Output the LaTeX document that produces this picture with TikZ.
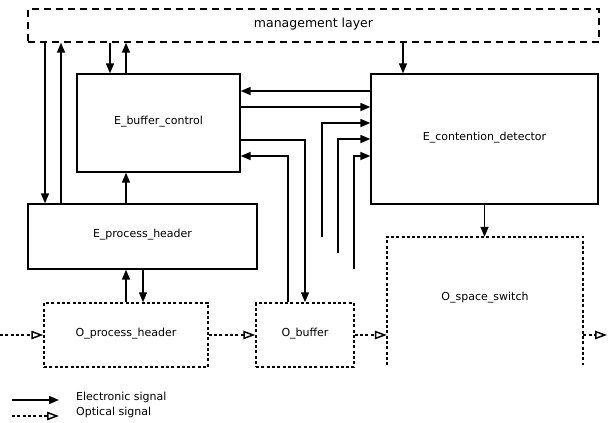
\documentclass[tikz,border=0pt]{standalone}
\usepackage{fontspec}
\setmainfont{DejaVu Sans}
\usetikzlibrary{arrows.meta}
\begin{document}
\begin{tikzpicture}[x=1pt,y=-1pt,
  every node/.style={font=\fontsize{11}{13}\selectfont},
  ebox/.style={draw, line width=1.3pt, inner sep=0pt, text depth=6pt},
  dotline/.style={line width=1.5pt, dash pattern=on 3pt off 2.3pt},
  obox/.style={draw, dotline, inner sep=0pt, text depth=6pt},
  mbox/.style={draw, line width=1.3pt, dash pattern=on 7pt off 5pt, inner sep=0pt, text depth=6pt,
    font=\fontsize{12.5}{14}\selectfont},
  el/.style={line width=1.4pt, -{Triangle[length=10pt,width=8pt]}},
  op/.style={dotline, -{Triangle[open,length=12pt,width=8.5pt]}},
  legtext/.style={anchor=west, inner sep=0pt}
]
\useasboundingbox (0,0) rectangle (608,423);

% blocks
\node[mbox, minimum width=571pt, minimum height=33pt] (mgmt) at (313.5,25.5) {management layer};
\node[ebox, minimum width=163pt, minimum height=98pt] (bc) at (158.5,123) {E\_buffer\_control};
\node[ebox, minimum width=227pt, minimum height=130pt] (cd) at (484.5,139) {E\_contention\_detector};
\node[ebox, minimum width=229pt, minimum height=65pt] (ph) at (142.5,236.5) {E\_process\_header};
\node[obox, minimum width=164pt, minimum height=64pt] (oph) at (126,335) {O\_process\_header};
\node[obox, minimum width=98pt, minimum height=64pt] (ob) at (305,335) {O\_buffer};
\node[inner sep=0pt, minimum width=196pt, minimum height=128pt] (oss) at (485,301) {};
\node[inner sep=0pt] (osstext) at (485,298) {O\_space\_switch};
\draw[dotline]
  (oss.south west) -- (oss.north west) -- (oss.north east) -- (oss.south east);

% columns and rows for the connectors
\coordinate (k45) at (45,0);
\coordinate (k61) at (61,0);
\coordinate (k110) at (110,0);
\coordinate (k126) at (126,0);
\coordinate (k143) at (143,0);
\coordinate (k288) at (288,0);
\coordinate (k305) at (305,0);
\coordinate (k403) at (403,0);
\coordinate (r91) at (0,91);
\coordinate (r107) at (0,107);
\coordinate (r123) at (0,123);
\coordinate (r139) at (0,139);
\coordinate (r140) at (0,140);
\coordinate (r156) at (0,156);
\coordinate (t1) at (322,237);
\coordinate (t2) at (338,253);
\coordinate (t3) at (354,269);
\coordinate (oin) at (0,335);
\coordinate (oout) at (607,335);

% management layer links
\draw[el] (mgmt.south -| k45) -- (ph.north -| k45);
\draw[el] (ph.north -| k61) -- (mgmt.south -| k61);
\draw[el] (mgmt.south -| k110) -- (bc.north -| k110);
\draw[el] (bc.north -| k126) -- (mgmt.south -| k126);
\draw[el] (mgmt.south -| k403) -- (cd.north -| k403);

% buffer control <-> contention detector
\draw[el] (cd.west |- r91) -- (bc.east |- r91);
\draw[el] (bc.east |- r107) -- (cd.west |- r107);
\draw[el] (t1) |- (cd.west |- r123);
\draw[el] (t2) |- (cd.west |- r139);
\draw[el] (t3) |- (cd.west |- r156);

% buffer control <-> optical buffer
\draw[el] (bc.east |- r140) -| (ob.north -| k305);
\draw[el] (ob.north -| k288) |- (bc.east |- r156);

% header processing
\draw[el] (ph.north -| k126) -- (bc.south -| k126);
\draw[el] (oph.north -| k126) -- (ph.south -| k126);
\draw[el] (ph.south -| k143) -- (oph.north -| k143);

% contention detector drives the space switch
\draw[el] (cd.south) -- (cd.south |- oss.north);

% optical path
\draw[op] (oin) -- (oph.west);
\draw[op] (oph.east) -- (ob.west);
\draw[op] (ob.east) -- (oss.west |- ob.east);
\draw[op] (oss.east |- ob.east) -- (oout);

% legend
\coordinate (le1) at (12,400);
\coordinate (le2) at (59,400);
\coordinate (lo1) at (12,416);
\coordinate (lo2) at (59,416);
\draw[el] (le1) -- (le2);
\draw[op] (lo1) -- (lo2);
\node[legtext] (lte) at (76,397) {Electronic signal};
\node[legtext] (lto) at (76,412) {Optical signal};
\end{tikzpicture}
\end{document}
